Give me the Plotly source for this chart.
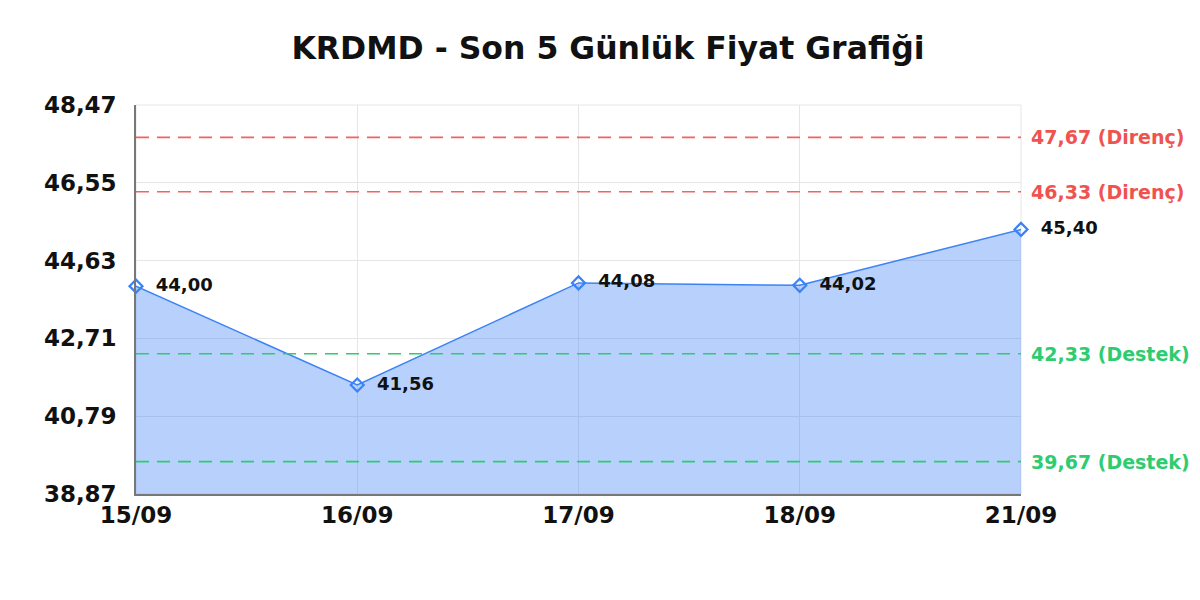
import plotly.graph_objects as go

dates = ["15/09", "16/09", "17/09", "18/09", "21/09"]
prices = [44.00, 41.56, 44.08, 44.02, 45.40]
price_labels = ["44,00", "41,56", "44,08", "44,02", "45,40"]
resistance = [47.67, 46.33]
resistance_labels = ["47,67 (Direnç)", "46,33 (Direnç)"]
support = [42.33, 39.67]
support_labels = ["42,33 (Destek)", "39,67 (Destek)"]
y_ticks = [38.87, 40.79, 42.71, 44.63, 46.55, 48.47]
y_tick_labels = ["38,87", "40,79", "42,71", "44,63", "46,55", "48,47"]

FONT = "DejaVu Sans"
x_idx = list(range(len(dates)))

fig = go.Figure()
fig.add_trace(go.Scatter(
    x=x_idx, y=prices,
    mode="lines+markers+text",
    fill="tozeroy",
    fillcolor="rgba(59,130,246,0.37)",
    line=dict(color="#3b82f6", width=1.5),
    marker=dict(symbol="diamond-open", size=10, color="#3b82f6", line=dict(width=2.2, color="#3b82f6")),
    text=["  " + t for t in price_labels],
    textposition="middle right",
    textfont=dict(family=FONT, size=18, color="#111111", weight="bold"),
    cliponaxis=False,
    showlegend=False,
    hoverinfo="skip",
))

for v, lab in zip(resistance, resistance_labels):
    fig.add_hline(y=v, line=dict(color="#f46262", width=1.6, dash="13px,8px"))
    fig.add_annotation(x=1, xref="paper", y=v, yref="y", text=lab, showarrow=False,
                       xanchor="left", xshift=8,
                       font=dict(family=FONT, size=19, color="#ef5350", weight="bold"))
for v, lab in zip(support, support_labels):
    fig.add_hline(y=v, line=dict(color="#2ecc71", width=1.6, dash="13px,8px"))
    fig.add_annotation(x=1, xref="paper", y=v, yref="y", text=lab, showarrow=False,
                       xanchor="left", xshift=8,
                       font=dict(family=FONT, size=19, color="#2ecc71", weight="bold"))

fig.update_layout(
    width=1200, height=600,
    paper_bgcolor="white", plot_bgcolor="white",
    margin=dict(l=128, r=187, t=97, b=114),
    title=dict(text="<b>KRDMD - Son 5 Günlük Fiyat Grafiği</b>", x=0.5, xanchor="center",
               y=0.933, yanchor="middle",
               font=dict(family=FONT, size=31.5, color="#111111")),
    font=dict(family=FONT),
)
fig.update_xaxes(
    range=[0, 4], tickvals=x_idx, ticktext=dates,
    tickfont=dict(family=FONT, size=23, color="#111111", weight="bold"),
    showgrid=True, gridcolor="#e6e6e6", gridwidth=1,
    showline=True, linecolor="#777777", linewidth=1.5,
    mirror=False, ticks="", zeroline=False,
)
fig.update_yaxes(
    range=[38.87, 48.47], tickvals=y_ticks, ticktext=y_tick_labels,
    tickfont=dict(family=FONT, size=23, color="#111111", weight="bold"),
    showgrid=True, gridcolor="#e6e6e6", gridwidth=1,
    showline=True, linecolor="#777777", linewidth=1.5,
    ticks="", zeroline=False, ticklabelstandoff=13,
)
fig.add_shape(type="rect", xref="paper", yref="paper", x0=0, x1=1, y0=0, y1=1,
              line=dict(color="#e6e6e6", width=1), layer="below")

fig.write_html("out.html")
